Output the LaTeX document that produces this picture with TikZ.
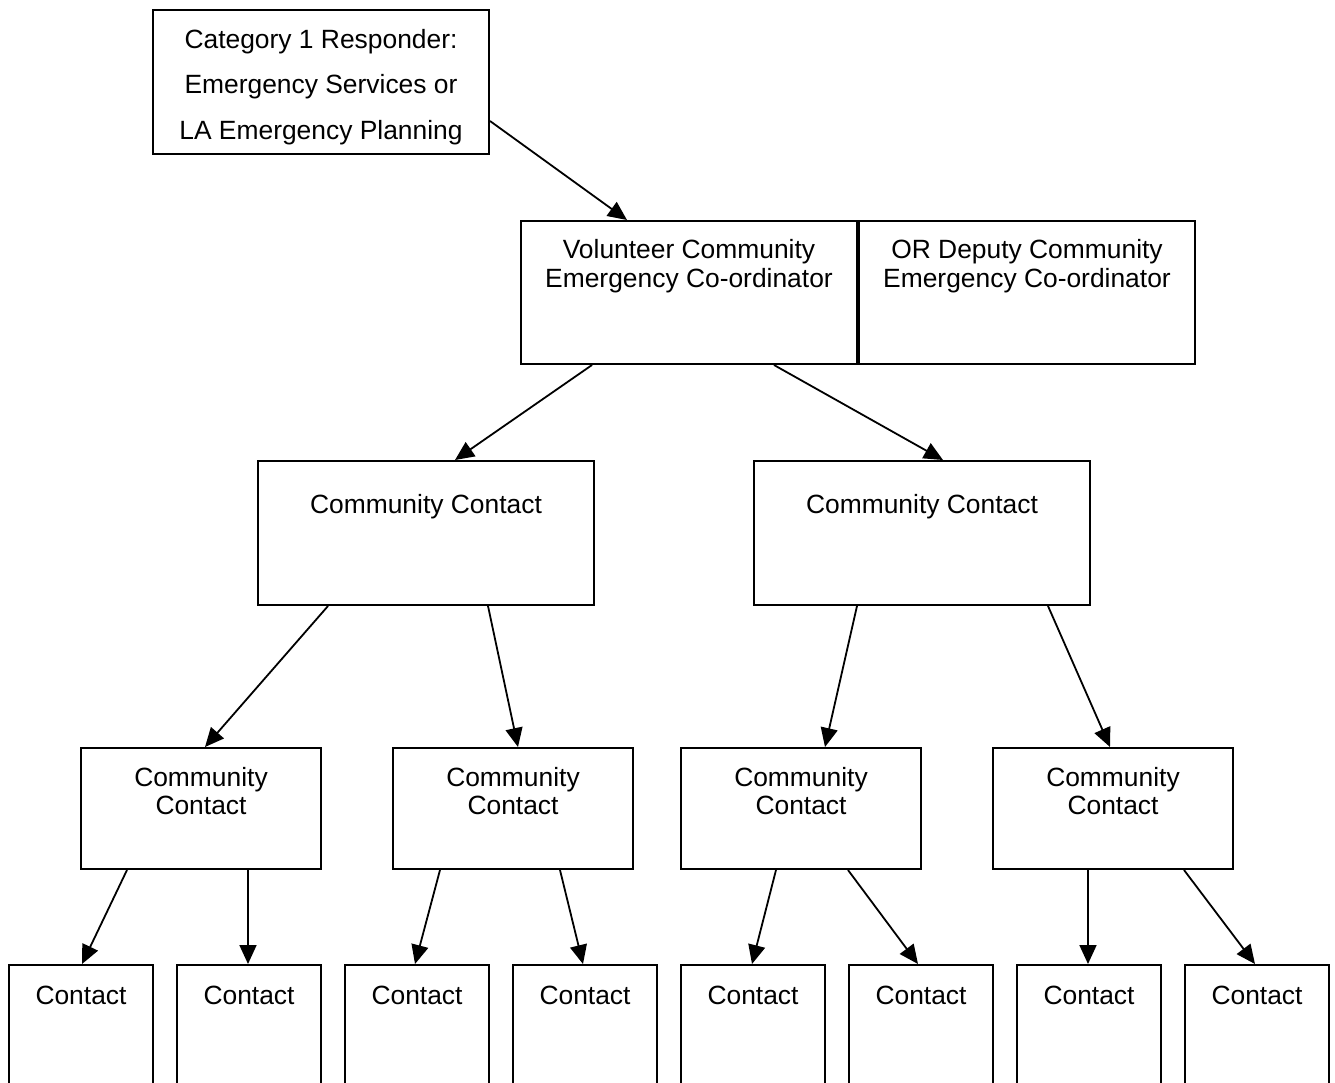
\documentclass[tikz,border=0pt]{standalone}
\usepackage{fontspec}
\setmainfont{Liberation Sans}
\usetikzlibrary{positioning,arrows.meta}

\begin{document}
\begin{tikzpicture}[
    x=0.5pt, y=-0.5pt,
    box/.style={
        draw,
        line width=1pt,
        align=center,
        inner xsep=0pt,
        inner ysep=0pt,
        anchor=north west,
        font=\fontsize{13.2}{14.25}\selectfont
    },
    catbox/.style={box, minimum width=168pt, text height=64.5pt, text depth=7.5pt,
        font=\fontsize{13.2}{22.75}\selectfont},
    coordbox/.style={box, minimum width=168pt, text height=33pt, text depth=38.5pt},
    ccbox/.style={box, minimum width=168pt, text height=26pt, text depth=46pt},
    subbox/.style={box, minimum width=120pt, text height=33pt, text depth=27.5pt,
        font=\fontsize{13.2}{14}\selectfont},
    contactbox/.style={box, minimum width=72pt, text height=19.5pt, text depth=60pt},
    arrow/.style={
        -{Triangle[length=9.5pt,width=8.5pt]},
        line width=0.9pt
    }
]
\useasboundingbox (0,0) rectangle (1335,1083);
\clip (0,0) rectangle (1335,1083);

\node[catbox] (cat) at (152,9)
{Category 1 Responder:\\
Emergency Services or\\
LA Emergency Planning};
\node[coordbox] (vol) at (520,220)
{Volunteer Community\\
Emergency Co-ordinator};
\node[coordbox, right=0pt of vol] (dep)
{OR Deputy Community\\
Emergency Co-ordinator};

\node[ccbox] (ccl) at (257,460) {Community Contact};
\node[ccbox] (ccr) at (753,460) {Community Contact};

\node[subbox] (suba) at (80,747) {Community\\ Contact};
\node[subbox] (subb) at (392,747) {Community\\ Contact};
\node[subbox] (subc) at (680,747) {Community\\ Contact};
\node[subbox] (subd) at (992,747) {Community\\ Contact};

\node[contactbox] (ca) at (8,964) {Contact};
\node[contactbox] (cb) at (176,964) {Contact};
\node[contactbox] (cc) at (344,964) {Contact};
\node[contactbox] (cd) at (512,964) {Contact};
\node[contactbox] (ce) at (680,964) {Contact};
\node[contactbox] (cf) at (848,964) {Contact};
\node[contactbox] (cg) at (1016,964) {Contact};
\node[contactbox] (ch) at (1184,964) {Contact};

\draw[arrow] ([yshift=17pt]cat.south east) -- ([xshift=53.5pt]vol.north west);
\draw[arrow] ([xshift=36pt]vol.south west) -- ([xshift=99pt]ccl.north west);
\draw[arrow] ([xshift=127pt]vol.south west) -- ([xshift=95pt]ccr.north west);

\draw[arrow] ([xshift=35.5pt]ccl.south west) -- ([xshift=62.5pt]suba.north west);
\draw[arrow] ([xshift=115.5pt]ccl.south west) -- ([xshift=63pt]subb.north west);
\draw[arrow] ([xshift=52pt]ccr.south west) -- ([xshift=72.5pt]subc.north west);
\draw[arrow] ([xshift=147.5pt]ccr.south west) -- ([xshift=59pt]subd.north west);

\draw[arrow] ([xshift=23.5pt]suba.south west) -- ([xshift=37pt]ca.north west);
\draw[arrow] ([xshift=84pt]suba.south west) -- ([xshift=36pt]cb.north west);
\draw[arrow] ([xshift=24pt]subb.south west) -- ([xshift=35.5pt]cc.north west);
\draw[arrow] ([xshift=84pt]subb.south west) -- ([xshift=35.5pt]cd.north west);
\draw[arrow] ([xshift=48pt]subc.south west) -- ([xshift=36pt]ce.north west);
\draw[arrow] ([xshift=84pt]subc.south west) -- ([xshift=35pt]cf.north west);
\draw[arrow] ([xshift=48pt]subd.south west) -- ([xshift=36pt]cg.north west);
\draw[arrow] ([xshift=96pt]subd.south west) -- ([xshift=35.5pt]ch.north west);
\end{tikzpicture}
\end{document}
